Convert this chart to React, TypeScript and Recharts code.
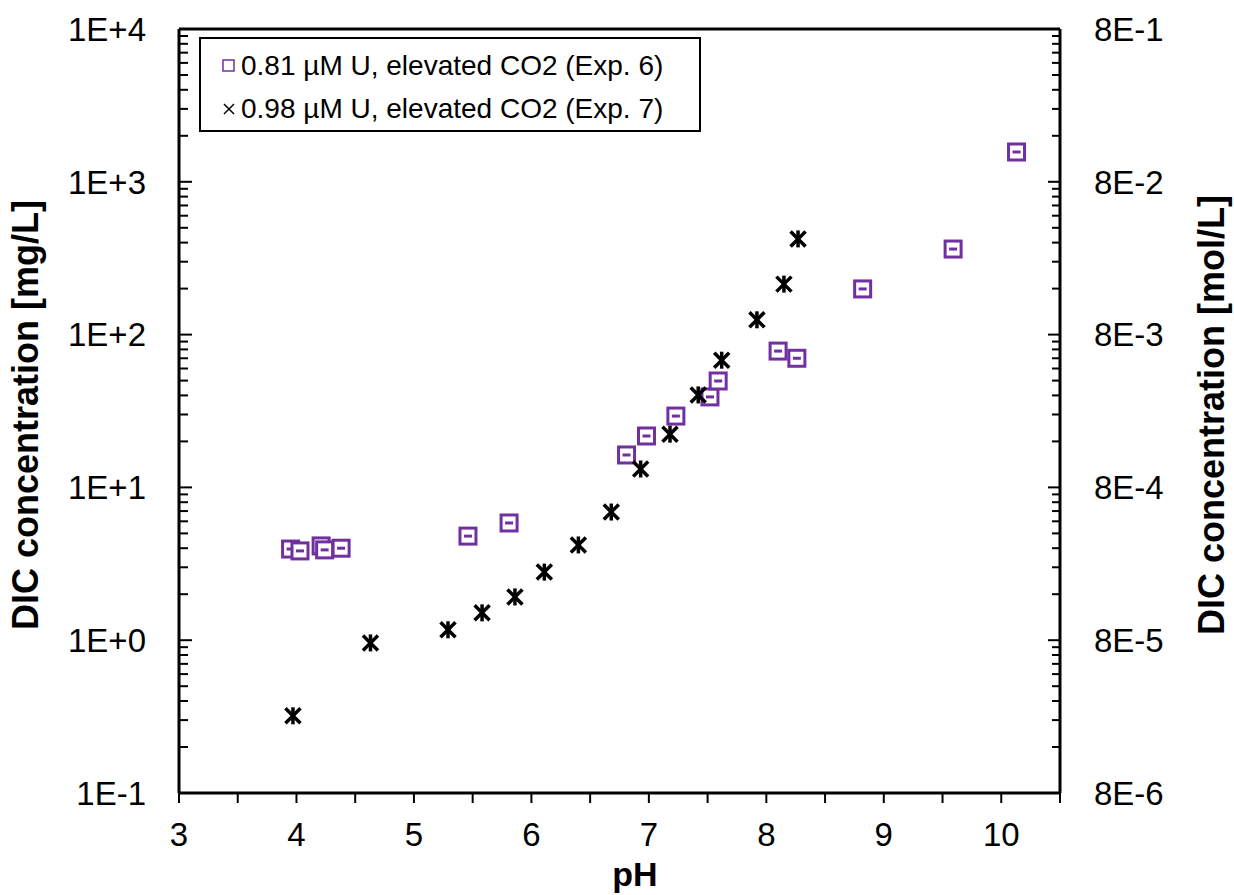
import { ReferenceLine, Scatter, ScatterChart, XAxis, YAxis } from "recharts";

const exp6Ph = [3.95, 4.03, 4.21, 4.24, 4.38, 5.46, 5.81, 6.81, 6.98, 7.23, 7.52, 7.59, 8.1, 8.26, 8.82, 9.59, 10.13];
const exp6Dic = [3.95, 3.84, 4.14, 3.9, 4.0, 4.8, 5.85, 16.3, 21.7, 29.3, 39.1, 49.7, 78, 70, 199, 363, 1567];

const exp7Ph = [3.97, 4.63, 5.29, 5.58, 5.86, 6.11, 6.4, 6.68, 6.93, 7.18, 7.42, 7.62, 7.92, 8.15, 8.27];
const exp7Dic = [0.32, 0.96, 1.17, 1.51, 1.92, 2.79, 4.2, 6.9, 13.2, 22.3, 40.3, 68, 125, 214, 423];

const phTicks = [3, 3.5, 4, 4.5, 5, 5.5, 6, 6.5, 7, 7.5, 8, 8.5, 9, 9.5, 10, 10.5];
const mgDecades = [0.1, 1, 10, 100, 1000, 10000];
const mgLabels = ["1E-1", "1E+0", "1E+1", "1E+2", "1E+3", "1E+4"];
const molDecades = [8e-6, 8e-5, 8e-4, 8e-3, 8e-2, 8e-1];
const molLabels = ["8E-6", "8E-5", "8E-4", "8E-3", "8E-2", "8E-1"];
const minorSteps = [2, 3, 4, 5, 6, 7, 8, 9];

const series6 = exp6Ph.map((ph, i) => ({ ph, dic: exp6Dic[i] }));
const series7 = exp7Ph.map((ph, i) => ({ ph, dic: exp7Dic[i] }));

const withMinors = (decades: number[]) => {
  const out: number[] = [];
  decades.forEach((d, i) => {
    out.push(d);
    if (i < decades.length - 1) minorSteps.forEach((m) => out.push(d * m));
  });
  return out;
};
const mgTicks = withMinors(mgDecades);
const molTicks = withMinors(molDecades);

const FONT = "'Liberation Sans', Arial, sans-serif";
const PURPLE = "#7030A0";

const labelFor = (v: number, decades: number[], labels: string[]) => {
  const idx = decades.findIndex((d) => Math.abs(d - v) / d < 1e-6);
  return idx >= 0 ? labels[idx] : null;
};

const LeftTick = (props: any) => {
  const { x, y, payload } = props;
  const lab = labelFor(payload.value, mgDecades, mgLabels);
  return (
    <g>
      <line x1={x} x2={x + (lab ? 13 : 9)} y1={y} y2={y} stroke="#000" strokeWidth={2} />
      {lab && (
        <text x={x - 33} y={y} dy="0.36em" textAnchor="end" fontSize={33} fontFamily={FONT} fill="#000">
          {lab}
        </text>
      )}
    </g>
  );
};

const RightTick = (props: any) => {
  const { x, y, payload } = props;
  const lab = labelFor(payload.value, molDecades, molLabels);
  return (
    <g>
      <line x1={x} x2={x - (lab ? 12 : 8)} y1={y} y2={y} stroke="#000" strokeWidth={2} />
      {lab && (
        <text x={x + 34} y={y} dy="0.36em" textAnchor="start" fontSize={33} fontFamily={FONT} fill="#000">
          {lab}
        </text>
      )}
    </g>
  );
};

const PhTick = (props: any) => {
  const { x, y, payload } = props;
  if (!Number.isInteger(payload.value)) return <g />;
  return (
    <text x={x} y={y + 43} textAnchor="middle" fontSize={33} fontFamily={FONT} fill="#000">
      {payload.value}
    </text>
  );
};

const SquareMark = (props: any) => {
  const { cx, cy } = props;
  return (
    <g>
      <rect x={cx - 8} y={cy - 8} width={16} height={16} fill="#fff" stroke={PURPLE} strokeWidth={3} />
      <line x1={cx - 4} x2={cx + 4} y1={cy} y2={cy} stroke={PURPLE} strokeWidth={3} />
    </g>
  );
};

const StarMark = (props: any) => {
  const { cx, cy } = props;
  return (
    <g stroke="#000" strokeWidth={3.5}>
      <line x1={cx - 7.5} y1={cy - 7.5} x2={cx + 7.5} y2={cy + 7.5} />
      <line x1={cx - 7.5} y1={cy + 7.5} x2={cx + 7.5} y2={cy - 7.5} />
      <line x1={cx} y1={cy - 8.5} x2={cx} y2={cy + 8.5} />
    </g>
  );
};

const LegendBox = () => (
  <div
    style={{
      position: "absolute",
      left: 199,
      top: 37,
      width: 502,
      height: 95,
      boxSizing: "border-box",
      border: "2px solid #000",
      background: "#fff",
      fontFamily: FONT,
      fontSize: 28,
      color: "#000",
      padding: "5px 0 0 20px",
      lineHeight: "43px",
    }}
  >
    <div style={{ display: "flex", alignItems: "center", whiteSpace: "nowrap" }}>
      <svg width={16} height={16} style={{ marginRight: 4 }}>
        <rect x={2} y={2} width={11} height={11} fill="#fff" stroke={PURPLE} strokeWidth={1.5} />
      </svg>
      0.81 µM U, elevated CO2 (Exp. 6)
    </div>
    <div style={{ display: "flex", alignItems: "center", whiteSpace: "nowrap" }}>
      <svg width={16} height={16} style={{ marginRight: 4 }}>
        <g stroke="#000" strokeWidth={1.5}>
          <line x1={3} y1={3} x2={13} y2={13} />
          <line x1={3} y1={13} x2={13} y2={3} />
        </g>
      </svg>
      0.98 µM U, elevated CO2 (Exp. 7)
    </div>
  </div>
);

export default function App() {
  return (
    <div style={{ position: "absolute", left: 0, top: 0, width: 1234, height: 895, background: "#fff" }}>
      <ScatterChart width={1234} height={895} margin={{ top: 29, right: 0, bottom: 0, left: 0 }}>
        <XAxis
          type="number"
          dataKey="ph"
          domain={[3, 10.5]}
          ticks={phTicks}
          interval={0}
          height={102}
          allowDataOverflow
          axisLine={{ stroke: "#000", strokeWidth: 3 }}
          tickLine={{ stroke: "#000", strokeWidth: 2 }}
          tickSize={10}
          tickMargin={0}
          tick={<PhTick />}
          label={{
            content: () => (
              <text x={635} y={886} textAnchor="middle" fontSize={34} fontWeight="bold" fontFamily={FONT} fill="#000">
                pH
              </text>
            ),
          }}
        />
        <YAxis
          type="number"
          dataKey="dic"
          scale="log"
          domain={[0.1, 10000]}
          ticks={mgTicks}
          interval={0}
          width={179}
          allowDataOverflow
          axisLine={{ stroke: "#000", strokeWidth: 3 }}
          tickLine={false}
          tickSize={0}
          tickMargin={0}
          tick={<LeftTick />}
          label={{
            content: () => (
              <text
                x={38}
                y={415}
                transform="rotate(-90 38 415)"
                textAnchor="middle"
                fontSize={36}
                fontWeight="bold"
                fontFamily={FONT}
                fill="#000"
              >
                DIC concentration [mg/L]
              </text>
            ),
          }}
        />
        <YAxis
          yAxisId="mol"
          orientation="right"
          type="number"
          scale="log"
          domain={[8e-6, 0.8]}
          ticks={molTicks}
          interval={0}
          width={174}
          allowDataOverflow
          axisLine={{ stroke: "#000", strokeWidth: 3 }}
          tickLine={false}
          tickSize={0}
          tickMargin={0}
          tick={<RightTick />}
          label={{
            content: () => (
              <text
                x={1224}
                y={415}
                transform="rotate(-90 1224 415)"
                textAnchor="middle"
                fontSize={36}
                fontWeight="bold"
                fontFamily={FONT}
                fill="#000"
              >
                DIC concentration [mol/L]
              </text>
            ),
          }}
        />
        <ReferenceLine y={10000} stroke="#000" strokeWidth={3} ifOverflow="visible" />
        <Scatter
          name="0.81 µM U, elevated CO2 (Exp. 6)"
          data={series6}
          shape={<SquareMark />}
          isAnimationActive={false}
        />
        <Scatter
          name="0.98 µM U, elevated CO2 (Exp. 7)"
          data={series7}
          shape={<StarMark />}
          isAnimationActive={false}
        />
      </ScatterChart>
      <LegendBox />
    </div>
  );
}
